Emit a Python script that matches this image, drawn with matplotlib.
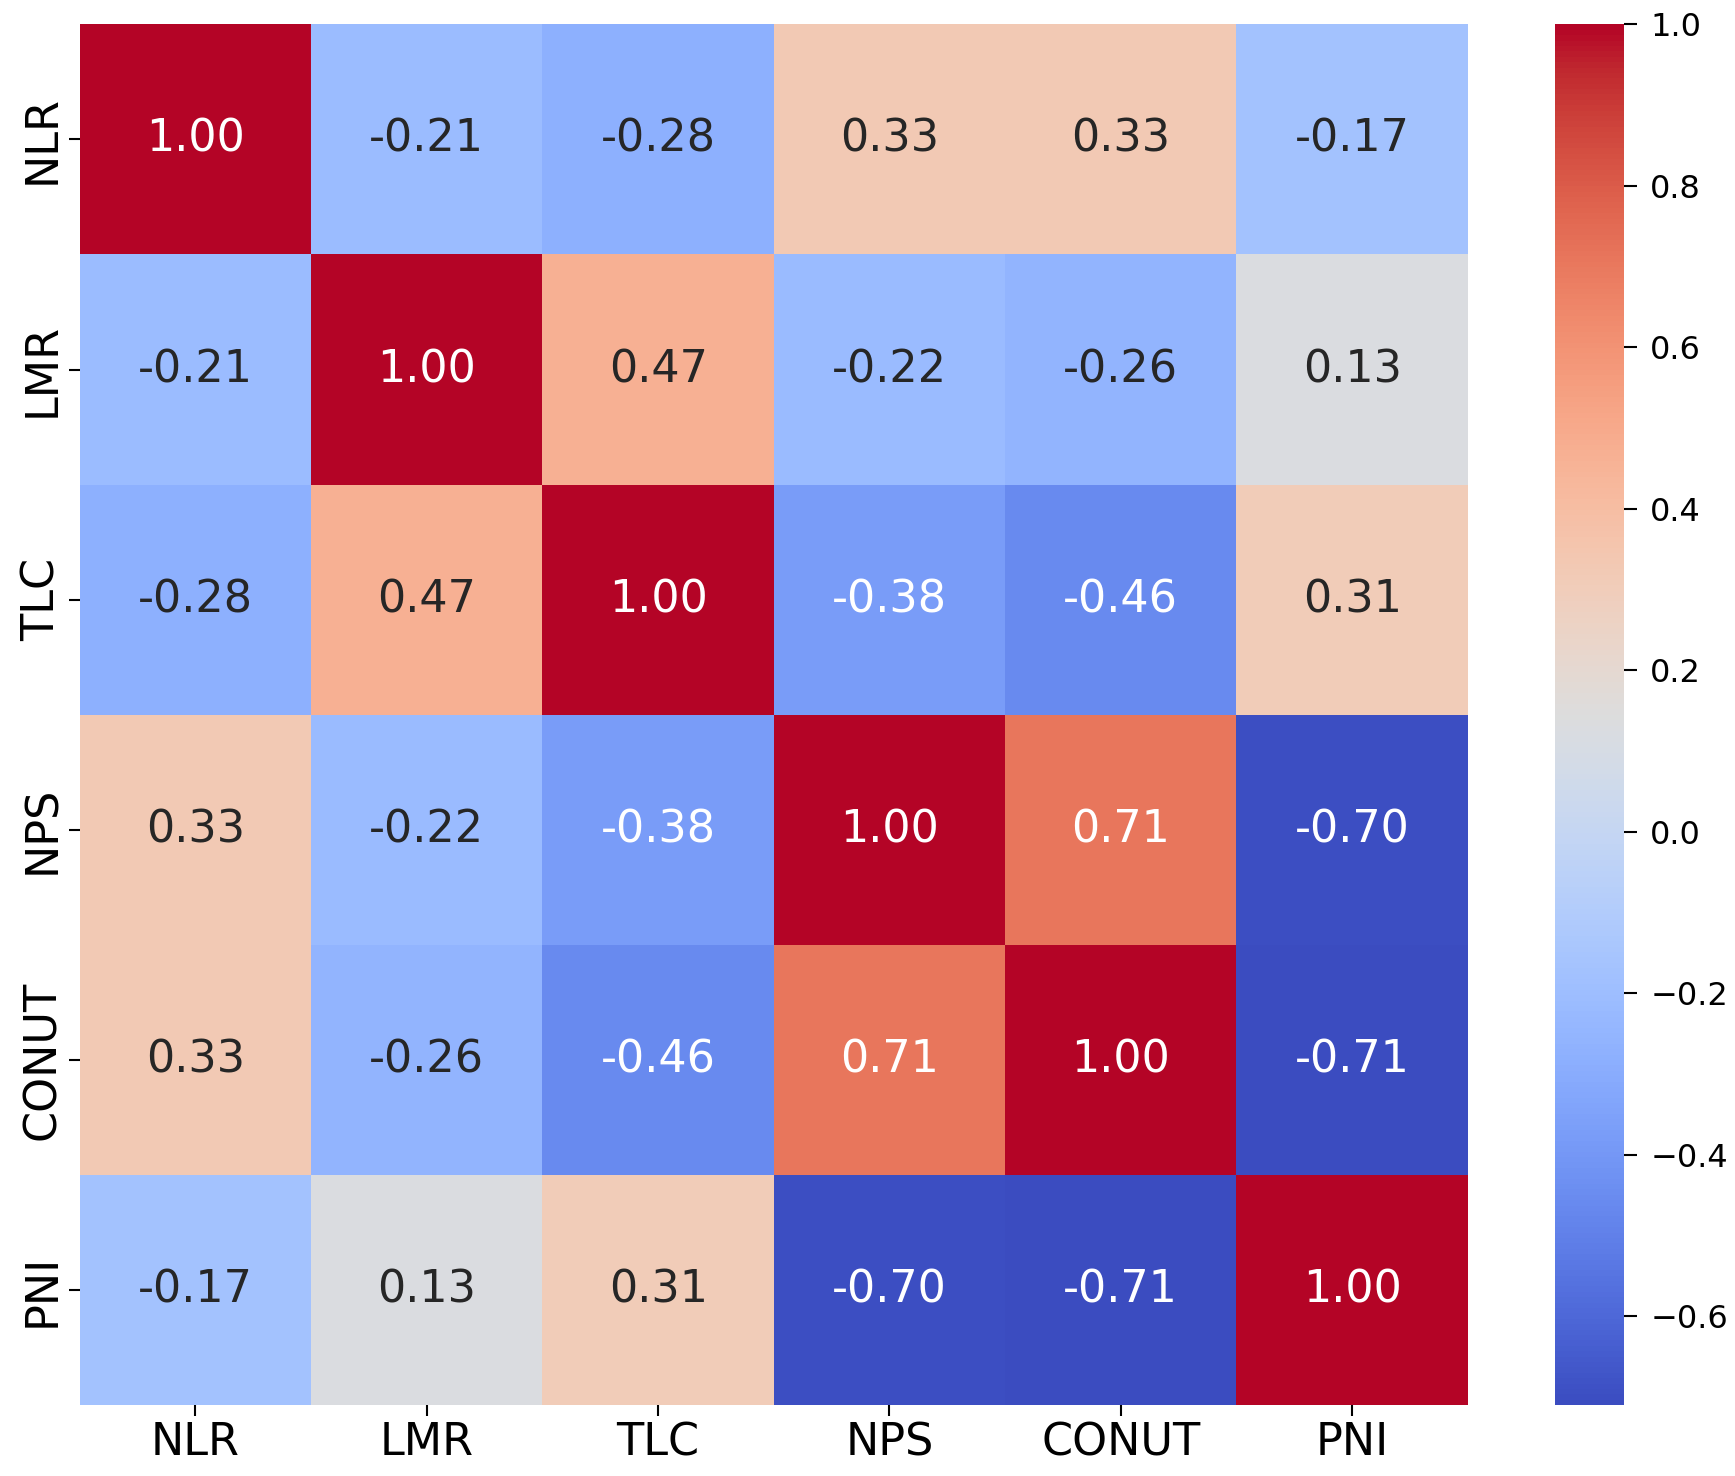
import numpy as np
import matplotlib
matplotlib.use("Agg")
import matplotlib.pyplot as plt
import seaborn as sns

# correlation matrix
labels = ["NLR", "LMR", "TLC", "NPS", "CONUT", "PNI"]
nlr = [1.00, -0.21, -0.28, 0.33, 0.33, -0.17]
lmr = [-0.21, 1.00, 0.47, -0.22, -0.26, 0.13]
tlc = [-0.28, 0.47, 1.00, -0.38, -0.46, 0.31]
nps = [0.33, -0.22, -0.38, 1.00, 0.71, -0.70]
conut = [0.33, -0.26, -0.46, 0.71, 1.00, -0.71]
pni = [-0.17, 0.13, 0.31, -0.70, -0.71, 1.00]

corr = np.array([nlr, lmr, tlc, nps, conut, pni])

fig = plt.figure(figsize=(17.35, 14.76), dpi=100)
ax = fig.add_axes([0.046, 0.048, 0.800, 0.9355])
cax = fig.add_axes([0.896, 0.048, 0.040, 0.9355])

sns.heatmap(corr, annot=True, fmt=".2f", cmap="coolwarm",
            xticklabels=labels, yticklabels=labels,
            annot_kws={"size": 32}, ax=ax, cbar_ax=cax)

ax.tick_params(axis="both", labelsize=32, length=8, width=1.5)
ax.set_yticklabels(labels, rotation=90, va="center")
ax.set_xticklabels(labels, rotation=0)

cax.tick_params(labelsize=23, length=9, width=1.5, pad=10)

fig.savefig("out.png", dpi=100)
